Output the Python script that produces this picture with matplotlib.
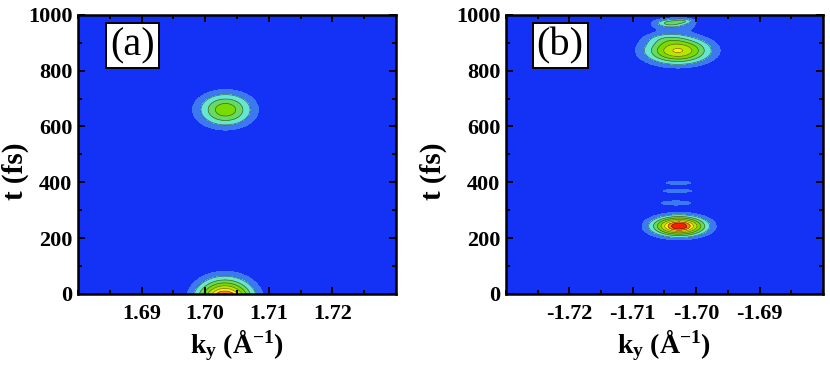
import numpy as np
import matplotlib
matplotlib.use('Agg')
import matplotlib.pyplot as plt
from matplotlib.ticker import MultipleLocator

# Intensity peaks: centre (k, t), widths (k, t), amplitude
a_k0  = [1.7032, 1.7031]
a_t0  = [660.0, -20.0]
a_sk  = [0.0027, 0.0027]
a_st  = [38.0, 45.0]
a_amp = [0.50, 1.00]

b_k0  = [-1.7027, -1.7032, -1.7030, -1.7028, -1.7029, -1.7041, -1.7021, -1.7035, -1.7048]
b_t0  = [243.0, 326.0, 369.0, 398.0, 872.0, 971.0, 978.0, 965.0, 915.0]
b_sk  = [0.0026, 0.0026, 0.0028, 0.0024, 0.0032, 0.0013, 0.0010, 0.0030, 0.0022]
b_st  = [22.0, 8.0, 7.0, 7.0, 30.0, 8.0, 6.0, 18.0, 14.0]
b_amp = [1.00, 0.12, 0.11, 0.11, 0.70, 0.24, 0.20, 0.13, 0.12]

levels = [-1, 0.08, 0.18, 0.30, 0.42, 0.55, 0.68, 0.80, 0.90, 2]
colors = ['#1432F5', '#3C78F0', '#64E6D2', '#64DC64', '#78DC00',
          '#B4E600', '#FFF000', '#FF8C00', '#FF1E00']

xlims  = [(1.68, 1.73), (-1.73, -1.68)]
xticks = [[1.69, 1.70, 1.71, 1.72], [-1.72, -1.71, -1.70, -1.69]]
labels = ['(a)', '(b)']
ylab_x = [-0.154, -0.186]

plt.rcParams['font.family'] = 'Liberation Serif'
plt.rcParams['axes.unicode_minus'] = False
plt.rcParams['mathtext.fontset'] = 'custom'
plt.rcParams['mathtext.rm'] = 'Liberation Serif'
plt.rcParams['mathtext.bf'] = 'Liberation Serif:bold'
plt.rcParams['mathtext.it'] = 'Liberation Serif:italic'


def field(k, t, k0, t0, sk, st, amp):
    z = np.zeros_like(k)
    for kc, tc, wk, wt, a in zip(k0, t0, sk, st, amp):
        z += a * np.exp(-0.5 * (((k - kc) / wk) ** 2 + ((t - tc) / wt) ** 2))
    return z


fig = plt.figure(figsize=(8.3, 3.72), dpi=100)
axes = [fig.add_axes([0.094, 0.21, 0.383, 0.75]),
        fig.add_axes([0.6096, 0.21, 0.382, 0.75])]

params = [(a_k0, a_t0, a_sk, a_st, a_amp), (b_k0, b_t0, b_sk, b_st, b_amp)]

for ax, xl, xt, lab, p, yx in zip(axes, xlims, xticks, labels, params, ylab_x):
    kk, tt = np.meshgrid(np.linspace(xl[0], xl[1], 400), np.linspace(0, 1000, 400))
    zz = field(kk, tt, *p)
    ax.contourf(kk, tt, zz, levels=levels, colors=colors)
    ax.contour(kk, tt, zz, levels=levels[2:-1], colors='#303030', linewidths=0.5, alpha=0.7)

    ax.set_xlim(*xl)
    ax.set_ylim(0, 1000)
    ax.set_xticks(xt)
    ax.set_xticklabels(['%.2f' % v for v in xt])
    ax.xaxis.set_minor_locator(MultipleLocator(0.005))
    ax.set_yticks([0, 200, 400, 600, 800, 1000])
    ax.yaxis.set_minor_locator(MultipleLocator(100))
    ax.tick_params(which='both', direction='in', top=True, right=True, width=1.4)
    ax.tick_params(which='major', length=5, labelsize=16)
    ax.tick_params(axis='y', which='major', pad=4)
    ax.tick_params(axis='x', which='major', pad=7)
    ax.tick_params(which='minor', length=3)
    for t in ax.get_xticklabels() + ax.get_yticklabels():
        t.set_fontweight('bold')
    for s in ax.spines.values():
        s.set_linewidth(1.8)

    ax.set_ylabel('t (fs)', fontsize=21, fontweight='bold')
    ax.yaxis.set_label_coords(yx, 0.44)
    ax.set_xlabel(r'k$_\mathbf{y}$ ($\mathbf{\AA}^\mathbf{-1}$)', fontsize=20,
                  fontweight='bold', labelpad=3)
    ax.text(0.171, 0.89, lab, transform=ax.transAxes, fontsize=29,
            ha='center', va='center',
            bbox=dict(boxstyle='square,pad=0.1', fc='white', ec='black', lw=1.4))

fig.savefig('out.png', dpi=100)
